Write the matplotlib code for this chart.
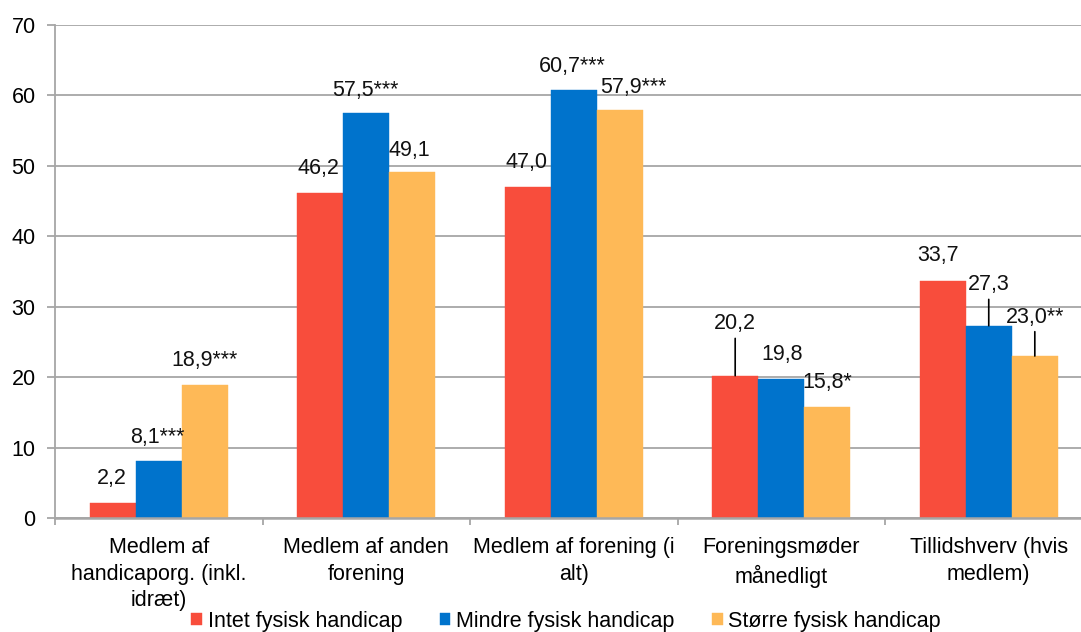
import matplotlib
matplotlib.use("Agg")
import matplotlib.pyplot as plt
import numpy as np

plt.rcParams['font.family'] = ['Liberation Sans', 'DejaVu Sans']

categories = ["Medlem af\nhandicaporg. (inkl.\nidræt)", "Medlem af anden\nforening",
              "Medlem af forening (i\nalt)", "Foreningsmøder\nmånedligt",
              "Tillidshverv (hvis\nmedlem)"]
series_names = ["Intet fysisk handicap", "Mindre fysisk handicap", "Større fysisk handicap"]
intet = [2.2, 46.2, 47.0, 20.2, 33.7]
mindre = [8.1, 57.5, 60.7, 19.8, 27.3]
stoerre = [18.9, 49.1, 57.9, 15.8, 23.0]
intet_sig = ["", "", "", "", ""]
mindre_sig = ["***", "***", "***", "", ""]
stoerre_sig = ["***", "", "***", "*", "**"]
y_ticks = [0, 10, 20, 30, 40, 50, 60, 70]

colors = ["#F84D3C", "#0073CC", "#FEB957"]
# label offsets in pixels (dx, dy above bar top); leader lines where dy is large
label_dx = [[-1, -2, -1, 0, -5], [-1, -1, -1, 1, 0], [0, -3, 14, 0, 0]]
label_dy = [[24, 24, 24, 52, 25], [23, 23, 24, 24, 41], [24, 22, 23, 24, 39]]

FS = 15.5
W, H = 1081, 632
fig = plt.figure(figsize=(W / 100, H / 100), dpi=100)
ax = fig.add_axes([55 / W, 114 / H, 1037.5 / W, 493 / H])

x = np.arange(len(categories))
bw = 0.222
all_vals = [intet, mindre, stoerre]
all_sig = [intet_sig, mindre_sig, stoerre_sig]
px = 0.72  # points per pixel at dpi 100
for i, (vals, sig, col, name) in enumerate(zip(all_vals, all_sig, colors, series_names)):
    xs = x + (i - 1) * bw
    ax.bar(xs, vals, width=bw, color=col, label=name, zorder=3,
           edgecolor=col, linewidth=0.3)
    for j, (xx, v) in enumerate(zip(xs, vals)):
        txt = f"{v:.1f}".replace(".", ",") + sig[j]
        dy = label_dy[i][j]
        kw = {}
        if dy > 30:
            kw['arrowprops'] = dict(arrowstyle='-', color='black', lw=1.2,
                                    shrinkA=1, shrinkB=0)
        ax.annotate(txt, xy=(xx, v), xytext=(label_dx[i][j] * px, dy * px),
                    textcoords='offset points', ha='center', va='center',
                    fontsize=FS, color='#111111', zorder=5, **kw)

ax.set_xlim(-0.5, len(categories) - 0.5)
ax.set_ylim(0, 70)
ax.set_yticks(y_ticks)
ax.set_yticklabels([str(t) for t in y_ticks])
ax.yaxis.grid(True, color='#A6A6A6', linewidth=1.3, zorder=0)
ax.set_axisbelow(True)

ax.set_xticks(np.arange(-0.5, len(categories)), labels=[""] * (len(categories) + 1))
ax.set_xticks(x, labels=categories, minor=True)
ax.tick_params(axis='x', which='major', length=5, width=1.3, color='#A6A6A6', direction='out')
ax.tick_params(axis='x', which='minor', length=0, pad=14, labelsize=FS)
ax.tick_params(axis='y', length=6, width=1.3, color='#A6A6A6', pad=8, labelsize=FS)
for lab in ax.get_xticklabels(minor=True):
    lab.set_linespacing(1.34)

for s in ['top', 'right']:
    ax.spines[s].set_visible(False)
ax.spines['left'].set_color('#A6A6A6')
ax.spines['left'].set_linewidth(1.3)
ax.spines['bottom'].set_color('#A6A6A6')
ax.spines['bottom'].set_linewidth(1.8)
ax.spines['bottom'].set_zorder(4)

leg = fig.legend(loc='center', bbox_to_anchor=(566 / W, 11 / H), ncol=3, frameon=False,
                 fontsize=FS, handlelength=0.5, handleheight=0.5,
                 handletextpad=0.25, columnspacing=1.75, borderpad=0)

fig.savefig("out.png", dpi=100)
